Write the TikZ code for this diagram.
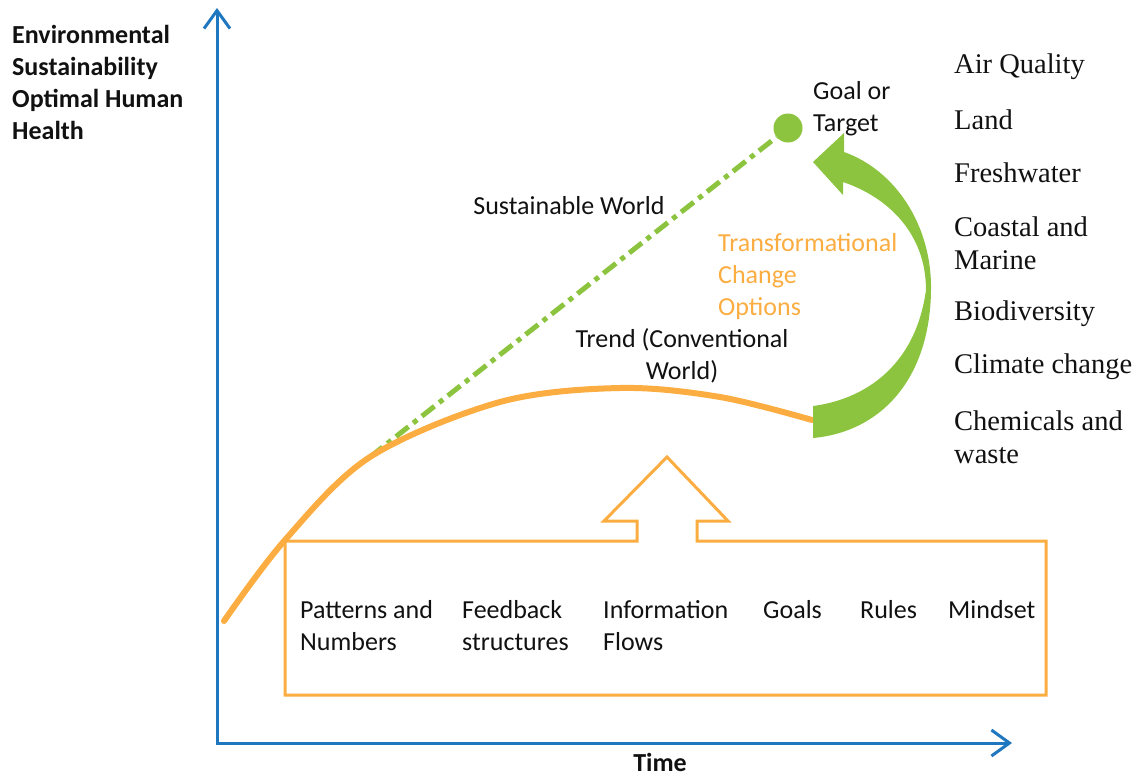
\documentclass[tikz,border=0pt]{standalone}
\usepackage{fontspec}
\setmainfont{Carlito}
\newfontfamily\listfont{Liberation Serif}
\usetikzlibrary{arrows.meta}
\definecolor{axisblue}{HTML}{1F77C0}
\definecolor{trendorange}{HTML}{FBAD41}
\definecolor{goalgreen}{HTML}{8CC43F}
\definecolor{ink}{HTML}{111111}
\tikzset{
  txt/.style={inner sep=0pt, text=ink, font=\fontsize{26}{32}\selectfont},
  item/.style={txt, anchor=west, align=left},
  bold/.style={txt, font=\fontsize{26}{32}\selectfont\bfseries},
  area/.style={txt, anchor=west, align=left, font=\listfont\fontsize{28.5}{33}\selectfont},
  axis/.style={draw=axisblue, line width=3pt, -{Straight Barb[length=18pt,width=26pt]}},
  trend/.style={draw=trendorange, line width=6pt, line cap=round},
  frame/.style={draw=trendorange, line width=3pt, line join=miter},
}
\begin{document}
\begin{tikzpicture}[x=1pt,y=-1pt]
  \useasboundingbox (0,0) rectangle (1141,777);
  % axes
  \coordinate (origin) at (217,743);
  \coordinate (ytop) at (217,8);
  \coordinate (xend) at (1012,743);
  \draw[axis] (217,745) -- (ytop);
  \draw[axis] (origin) -- (xend);
  \node[bold, anchor=west, align=left] (ylab) at (12,82)
    {Environmental\\Sustainability\\Optimal Human\\Health};
  \node[bold] (xlab) at (660,762) {Time};
  % sustainable path to the goal
  \coordinate (split) at (370,457);
  \node[circle, fill=goalgreen, minimum size=29pt, inner sep=0pt] (goal) at (788,128) {};
  \draw[draw=goalgreen, line width=5pt, dash pattern=on 16pt off 6pt on 5pt off 6pt] (split) -- (goal);
  \node[item] (goallab) at (813,109) {Goal or\\Target};
  \node[txt] (sust) at (569,206) {Sustainable World};
  % conventional trend
  \draw[trend] plot[smooth, tension=0.55] coordinates
    {(224,621) (285,540) (split) (500,402) (620,388) (720,397) (812,420)};
  \node[txt, align=center] (trendlab) at (682,356) {Trend (Conventional\\World)};
  % transformational arrow
  \fill[goalgreen] (813,406) .. controls (860,400) and (915,370) .. (926,290)
    .. controls (926,235) and (890,198) .. (843,182) -- (843,195) -- (813,162)
    -- (844,133) -- (844,152) .. controls (895,170) and (932,225) .. (931,290)
    .. controls (930,380) and (880,432) .. (813,438) -- cycle;
  \node[item, text=trendorange] (change) at (718,277) {Transformational\\Change\\Options};
  % leverage points box
  \draw[frame] (285,541) -- (637,541) -- (637,521) -- (604,521) -- (667,457)
    -- (728,521) -- (697,521) -- (697,541) -- (1046,541) -- (1046,695)
    -- (285,695) -- cycle;
  \node[item] (patterns) at (300,626) {Patterns and\\Numbers};
  \node[item] (feedback) at (462,626) {Feedback\\structures};
  \node[item] (info) at (603,626) {Information\\Flows};
  \node[item] (goals) at (763,610) {Goals};
  \node[item] (rules) at (860,610) {Rules};
  \node[item] (mindset) at (948,610) {Mindset};
  % environmental areas
  \node[area] (air) at (954,67) {Air Quality};
  \node[area] (land) at (954,120) {Land};
  \node[area] (fresh) at (954,173) {Freshwater};
  \node[area] (coast) at (954,243) {Coastal and\\Marine};
  \node[area] (bio) at (954,314) {Biodiversity};
  \node[area] (climate) at (954,367) {Climate change};
  \node[area] (chem) at (954,437) {Chemicals and\\waste};
\end{tikzpicture}
\end{document}
